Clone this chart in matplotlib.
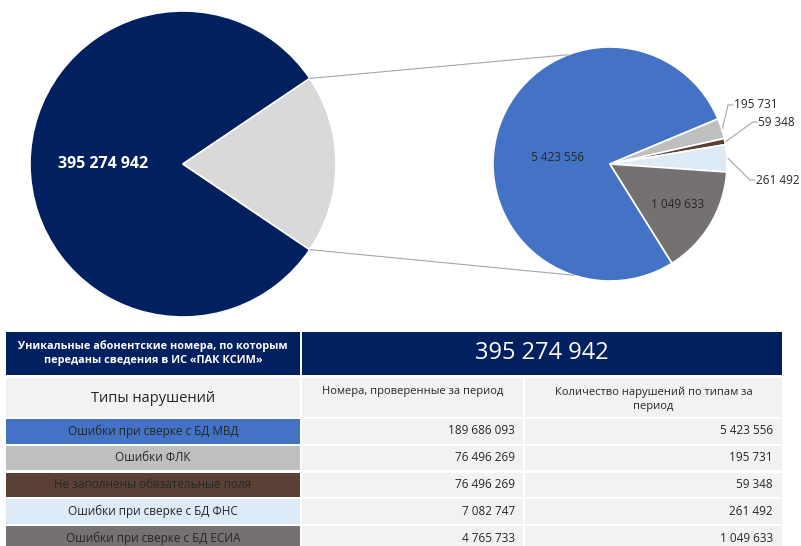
import numpy as np
import matplotlib.pyplot as plt
from matplotlib.patches import Rectangle

plt.rcParams['font.family'] = ['Open Sans', 'DejaVu Sans']

# --- data ---
total_numbers = 395274942
left_share = [81.1, 18.9]          # main / breakdown share as drawn

violation_types = ['Ошибки при сверке с БД МВД', 'Ошибки ФЛК',
                   'Не заполнены обязательные поля', 'Ошибки при сверке с БД ФНС',
                   'Ошибки при сверке с БД ЕСИА']
checked_numbers = [189686093, 76496269, 76496269, 7082747, 4765733]
violations = [5423556, 195731, 59348, 261492, 1049633]
type_colors = ['#4472C4', '#BFBFBF', '#5B4036', '#DDEBF7', '#767171']

header_left = 'Уникальные абонентские номера, по которым\nпереданы сведения в ИС «ПАК КСИМ»'
col_titles = ['Типы нарушений', 'Номера, проверенные за период',
              'Количество нарушений по типам за\nпериод']


def fmt(v):
    return f'{v:,}'.replace(',', ' ')


W, H = 801, 546
NAVY = '#002060'
TXT = '#262626'

fig = plt.figure(figsize=(W / 100, H / 100), dpi=100)
ax = fig.add_axes([0, 0, 1, 1])


def Y(py):
    return H - py


# left pie
c1 = (183, Y(164)); r1 = 153
w1, _ = ax.pie(left_share, colors=[NAVY, '#D9D9D9'], startangle=34,
               center=c1, radius=r1,
               wedgeprops=dict(edgecolor='white', linewidth=1.2))
mid = np.deg2rad((w1[0].theta1 + w1[0].theta2) / 2)
ax.text(c1[0] + 0.52 * r1 * np.cos(mid), c1[1] + 0.52 * r1 * np.sin(mid),
        fmt(total_numbers), color='white', fontsize=11.5, fontweight='bold',
        ha='center', va='center')

# right pie
c2 = (610, Y(164)); r2 = 117
w2, _ = ax.pie(violations, colors=type_colors, startangle=302, counterclock=False,
               center=c2, radius=r2,
               wedgeprops=dict(edgecolor='white', linewidth=1.2))

# connector lines between pies
for a1, a2 in [(w1[1].theta2, 111), (w1[1].theta1, 252)]:
    p1 = (c1[0] + r1 * np.cos(np.deg2rad(a1)), c1[1] + r1 * np.sin(np.deg2rad(a1)))
    p2 = (c2[0] + r2 * np.cos(np.deg2rad(a2)), c2[1] + r2 * np.sin(np.deg2rad(a2)))
    ax.plot([p1[0], p2[0]], [p1[1], p2[1]], color='#A6A6A6', lw=0.8)

# inside labels (angle offset in deg, radius fraction)
inside = {0: (11, 0.45), 4: (0, 0.67)}
for i, (da, rf) in inside.items():
    a = np.deg2rad((w2[i].theta1 + w2[i].theta2) / 2 + da)
    ax.text(c2[0] + rf * r2 * np.cos(a), c2[1] + rf * r2 * np.sin(a),
            fmt(violations[i]), color=TXT, fontsize=8.5, ha='center', va='center')

# outside labels with leader lines (elbow x,y in px; text x)
outside = {1: (728, 105, 734), 2: (753, 122, 758), 3: (750, 180, 756)}
for i, (ex, ey, tx) in outside.items():
    a = np.deg2rad((w2[i].theta1 + w2[i].theta2) / 2)
    sx, sy = c2[0] + r2 * 1.01 * np.cos(a), c2[1] + r2 * 1.01 * np.sin(a)
    ax.plot([sx, ex, tx - 1], [sy, Y(ey), Y(ey)], color='#A6A6A6', lw=0.8)
    ax.text(tx, Y(ey), fmt(violations[i]), color=TXT, fontsize=8.5,
            ha='left', va='center')

# --- table ---
cols = [(6, 300), (302, 523), (525, 782)]


def cell(x0, x1, top, bot, color):
    ax.add_patch(Rectangle((x0, Y(bot)), x1 - x0, bot - top, facecolor=color,
                           edgecolor='none', clip_on=False))


cell(cols[0][0], cols[0][1], 332, 375, NAVY)
cell(cols[1][0], cols[2][1], 332, 375, NAVY)
ax.text(sum(cols[0]) / 2, Y(353), header_left, color='white', fontsize=7.8,
        fontweight='bold', ha='center', va='center', linespacing=1.45)
ax.text((cols[1][0] + cols[2][1]) / 2, Y(353), fmt(total_numbers), color='white',
        fontsize=17, ha='center', va='center')

for x0, x1 in cols:
    cell(x0, x1, 378, 417, '#F2F2F2')
ax.text(sum(cols[0]) / 2, Y(398), col_titles[0], color=TXT, fontsize=10.5,
        ha='center', va='center')
ax.text(sum(cols[1]) / 2, Y(386), col_titles[1], color=TXT, fontsize=8,
        ha='center', va='top')
ax.text(sum(cols[2]) / 2, Y(386), col_titles[2], color=TXT, fontsize=8,
        ha='center', va='top', linespacing=1.5)

for i, name in enumerate(violation_types):
    top = 419 + i * 26.75
    bot = top + 24.5 if i < len(violation_types) - 1 else top + 30
    cell(cols[0][0], cols[0][1], top, bot, type_colors[i])
    cell(cols[1][0], cols[1][1], top, bot, '#F2F2F2')
    cell(cols[2][0], cols[2][1], top, bot, '#F2F2F2')
    yc = Y(top + 12)
    ax.text(sum(cols[0]) / 2, yc, name, color=TXT, fontsize=8.5,
            ha='center', va='center')
    ax.text(cols[1][1] - 8, yc, fmt(checked_numbers[i]), color=TXT, fontsize=8.5,
            ha='right', va='center')
    ax.text(cols[2][1] - 9, yc, fmt(violations[i]), color=TXT, fontsize=8.5,
            ha='right', va='center')

ax.set_xlim(0, W)
ax.set_ylim(0, H)
ax.set_aspect('auto')
ax.axis('off')

fig.savefig('out.png', dpi=100, facecolor='white')
